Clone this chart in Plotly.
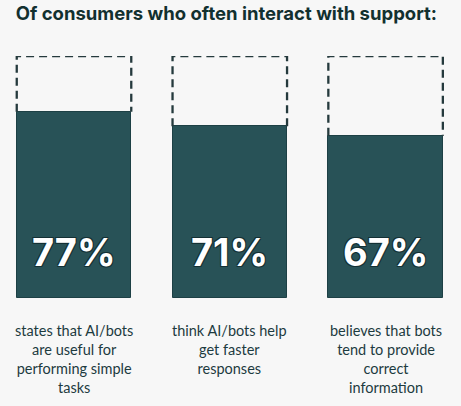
import plotly.graph_objects as go

categories = ["A", "B", "C"]
values = [77, 71, 67]
value_labels = ["77%", "71%", "67%"]
descriptions = [
    "states that AI/bots<br>are useful for<br>performing simple<br>tasks",
    "think AI/bots help<br>get faster<br>responses",
    "believes that bots<br>tend to provide<br>correct<br>information",
]
title_text = "Of consumers who often interact with support:"

BG = "#f7f7f7"
BAR = "#285257"
BW = 0.735

xs = list(range(len(categories)))

fig = go.Figure()
fig.add_trace(go.Bar(
    x=xs, y=values, width=BW,
    marker=dict(color=BAR, line=dict(color="#1d4045", width=1)),
    hoverinfo="skip", showlegend=False,
))

for i, v in enumerate(values):
    fig.add_shape(type="path",
                  path=f"M {i-BW/2} {v} L {i-BW/2} 100 L {i+BW/2} 100 L {i+BW/2} {v}",
                  xref="x", yref="y",
                  line=dict(color="#253a3d", width=2.3, dash="8px,5px"))
    fig.add_annotation(x=i, y=19, xref="x", yref="y",
                       text=f"<b>{value_labels[i]}</b>", showarrow=False,
                       font=dict(family="Inter, Lato, sans-serif", size=38, color="white",
                                 shadow="1px 1px 0 #143034, -1px -1px 0 #143034, 1px -1px 0 #143034, -1px 1px 0 #143034"))
    fig.add_annotation(x=i, y=-0.09, xref="x", yref="paper",
                       text=descriptions[i], showarrow=False, yanchor="top",
                       align="center",
                       font=dict(family="Lato, sans-serif", size=14.5, color="#1d3b3f"))

fig.update_layout(
    width=461, height=406,
    paper_bgcolor=BG, plot_bgcolor=BG,
    margin=dict(l=0, r=0, t=56, b=108),
    title=dict(text=f"<b>{title_text}</b>", x=0.034, xanchor="left",
               y=0.966, yanchor="middle", xref="container", yref="container",
               font=dict(family="Inter, sans-serif", size=18.5, color="#12302f")),
    xaxis=dict(range=[-0.475, 2.484], visible=False, fixedrange=True),
    yaxis=dict(range=[0, 100], visible=False, fixedrange=True),
    bargap=0,
)

fig.write_html("out.html", config={"displayModeBar": False})
